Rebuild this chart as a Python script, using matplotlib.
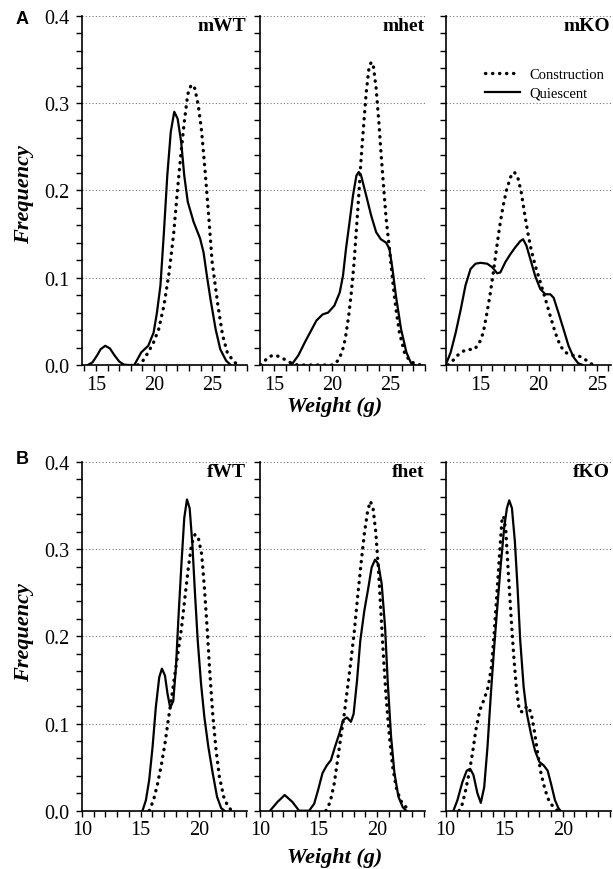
import matplotlib.pyplot as plt
from matplotlib.ticker import MultipleLocator

plt.rcParams['font.family'] = ['Liberation Serif', 'DejaVu Serif']

# Weight density curves, males (top row)
mwt_q_x = [14.3, 14.7, 15.1, 15.4, 15.8, 16.2, 16.6, 17.0, 17.4, 17.8, 18.3, 18.9, 19.5, 19.96, 20.25, 20.55,
           20.85, 21.14, 21.44, 21.74, 22.03, 22.33, 22.6, 22.9, 23.4, 23.96, 24.26, 24.55, 24.85, 25.3, 25.7,
           26.2, 26.6]
mwt_q_y = [0.0, 0.003, 0.011, 0.018, 0.022, 0.019, 0.011, 0.004, 0.0005, 0.0, 0.0, 0.0145, 0.022, 0.037, 0.06,
           0.091, 0.152, 0.217, 0.267, 0.29, 0.282, 0.256, 0.217, 0.187, 0.164, 0.145, 0.129, 0.102, 0.076, 0.041,
           0.018, 0.005, 0.0]
mwt_c_x = [18.6, 19.0, 19.5, 19.96, 20.4, 20.85, 21.3, 21.7, 22.0, 22.3, 22.6, 22.9, 23.2, 23.5, 23.8, 24.1,
           24.4, 24.7, 25.0, 25.5, 25.9, 26.3, 26.9, 27.4]
mwt_c_y = [0.0, 0.004, 0.0145, 0.026, 0.041, 0.068, 0.106, 0.152, 0.198, 0.24, 0.278, 0.31, 0.321, 0.317, 0.298,
           0.267, 0.221, 0.171, 0.118, 0.068, 0.034, 0.0145, 0.003, 0.0]

mhet_q_x = [16.5, 17.1, 17.66, 18.1, 18.66, 19.2, 19.66, 20.2, 20.66, 20.94, 21.2, 21.5, 21.8, 22.1, 22.3, 22.5,
            22.94, 23.37, 23.8, 24.2, 24.66, 24.94, 25.2, 25.5, 25.94, 26.4, 26.8, 27.1]
mhet_q_y = [0.0, 0.011, 0.026, 0.037, 0.051, 0.058, 0.06, 0.068, 0.083, 0.102, 0.133, 0.163, 0.194, 0.217, 0.221,
            0.217, 0.194, 0.171, 0.152, 0.144, 0.14, 0.133, 0.11, 0.079, 0.041, 0.0145, 0.002, 0.0]
mhet_c_x = [13.85, 14.1, 14.5, 15.0, 15.5, 16.1, 16.66, 17.1, 18.0, 19.0, 20.1, 20.5, 20.86, 21.14, 21.43, 21.66,
            21.9, 22.1, 22.3, 22.5, 22.74, 22.94, 23.17, 23.37, 23.57, 23.8, 24.03, 24.23, 24.46, 24.66, 24.94,
            25.23, 25.5, 25.8, 26.23, 26.66, 27.2, 27.66]
mhet_c_y = [0.0, 0.003, 0.009, 0.0115, 0.0095, 0.005, 0.001, 0.0, 0.0, 0.0, 0.0, 0.005, 0.0145, 0.03, 0.056,
            0.083, 0.118, 0.156, 0.194, 0.236, 0.278, 0.312, 0.339, 0.347, 0.341, 0.316, 0.278, 0.24, 0.2, 0.167,
            0.133, 0.095, 0.064, 0.037, 0.0145, 0.005, 0.001, 0.0]

mko_q_x = [12.0, 12.43, 12.86, 13.3, 13.7, 14.14, 14.57, 15.0, 15.57, 16.0, 16.43, 16.7, 17.14, 17.57, 18.0,
           18.43, 18.66, 18.94, 19.29, 19.7, 20.14, 20.57, 21.0, 21.29, 21.7, 22.14, 22.57, 23.0, 23.4, 23.8]
mko_q_y = [0.0, 0.0145, 0.037, 0.064, 0.091, 0.11, 0.116, 0.117, 0.116, 0.112, 0.105, 0.106, 0.118, 0.127,
           0.135, 0.142, 0.144, 0.137, 0.121, 0.102, 0.087, 0.081, 0.081, 0.077, 0.06, 0.041, 0.022, 0.009,
           0.002, 0.0]
mko_c_x = [12.2, 12.43, 12.86, 13.3, 13.86, 14.43, 14.86, 15.23, 15.5, 15.8, 16.1, 16.37, 16.66, 16.94, 17.23,
           17.57, 17.9, 18.2, 18.5, 18.77, 19.06, 19.34, 19.7, 20.14, 20.57, 21.0, 21.43, 21.86, 22.29, 22.86,
           23.29, 23.7, 24.14, 24.57, 24.86]
mko_c_y = [0.0, 0.002, 0.009, 0.0145, 0.018, 0.0175, 0.024, 0.037, 0.056, 0.079, 0.106, 0.133, 0.16, 0.182, 0.2,
           0.215, 0.221, 0.215, 0.198, 0.175, 0.152, 0.133, 0.114, 0.095, 0.076, 0.056, 0.037, 0.022, 0.0145,
           0.011, 0.011, 0.009, 0.005, 0.001, 0.0]

# Weight density curves, females (bottom row)
fwt_q_x = [15.17, 15.46, 15.74, 16.03, 16.31, 16.6, 16.83, 17.09, 17.31, 17.54, 17.8, 18.03, 18.26, 18.51,
           18.74, 18.97, 19.2, 19.43, 19.66, 19.89, 20.17, 20.46, 20.8, 21.17, 21.54, 21.89, 22.17]
fwt_q_y = [0.0, 0.012, 0.035, 0.073, 0.119, 0.153, 0.163, 0.155, 0.134, 0.118, 0.126, 0.165, 0.226, 0.286,
           0.336, 0.357, 0.347, 0.306, 0.248, 0.195, 0.146, 0.107, 0.073, 0.043, 0.016, 0.003, 0.0]
fwt_c_x = [15.74, 16.11, 16.46, 16.8, 17.09, 17.37, 17.66, 17.94, 18.23, 18.51, 18.8, 19.09, 19.37, 19.66,
           19.94, 20.23, 20.46, 20.69, 20.91, 21.17, 21.46, 21.74, 22.11, 22.46, 22.8]
fwt_c_y = [0.0, 0.012, 0.031, 0.054, 0.077, 0.104, 0.13, 0.157, 0.184, 0.21, 0.245, 0.279, 0.306, 0.317,
           0.313, 0.294, 0.256, 0.21, 0.161, 0.111, 0.069, 0.039, 0.016, 0.005, 0.0]

fhet_q_x = [10.86, 11.49, 12.11, 12.77, 13.34, 14.2, 14.63, 14.97, 15.34, 15.71, 16.06, 16.4, 16.77, 17.11,
            17.43, 17.77, 18.0, 18.29, 18.57, 18.91, 19.26, 19.54, 19.83, 20.11, 20.4, 20.69, 20.91, 21.2,
            21.49, 21.83, 22.2, 22.49]
fhet_q_y = [0.0, 0.01, 0.018, 0.01, 0.0, 0.0, 0.008, 0.024, 0.043, 0.052, 0.058, 0.073, 0.088, 0.104, 0.107,
            0.102, 0.111, 0.149, 0.195, 0.229, 0.256, 0.279, 0.288, 0.283, 0.26, 0.21, 0.149, 0.085, 0.043,
            0.016, 0.004, 0.0]
fhet_c_x = [15.63, 16.0, 16.34, 16.63, 16.91, 17.2, 17.49, 17.77, 18.06, 18.34, 18.63, 18.91, 19.2, 19.43,
            19.66, 19.89, 20.11, 20.34, 20.57, 20.8, 21.06, 21.34, 21.63, 22.0, 22.4, 22.86]
fhet_c_y = [0.0, 0.01, 0.031, 0.058, 0.085, 0.111, 0.142, 0.172, 0.206, 0.245, 0.283, 0.317, 0.344, 0.355,
            0.347, 0.32, 0.279, 0.226, 0.172, 0.126, 0.085, 0.05, 0.027, 0.012, 0.005, 0.0]

fko_q_x = [10.66, 11.0, 11.43, 11.8, 12.09, 12.37, 12.71, 13.0, 13.29, 13.57, 13.86, 14.14, 14.43, 14.71, 15.0,
           15.23, 15.43, 15.66, 15.91, 16.14, 16.37, 16.66, 16.94, 17.29, 17.63, 18.0, 18.37, 18.71, 19.0,
           19.34, 19.63, 19.8]
fko_q_y = [0.0, 0.012, 0.033, 0.046, 0.048, 0.041, 0.02, 0.009, 0.027, 0.073, 0.134, 0.187, 0.237, 0.283,
           0.325, 0.347, 0.356, 0.347, 0.309, 0.256, 0.195, 0.142, 0.111, 0.088, 0.069, 0.056, 0.052, 0.046,
           0.031, 0.012, 0.003, 0.0]
fko_c_x = [11.14, 11.43, 11.71, 12.0, 12.29, 12.57, 12.91, 13.29, 13.63, 13.91, 14.14, 14.37, 14.6, 14.8,
           14.94, 15.14, 15.34, 15.57, 15.8, 16.03, 16.29, 16.57, 16.94, 17.29, 17.57, 17.86, 18.14, 18.49,
           18.86, 19.29, 19.57]
fko_c_y = [0.0, 0.008, 0.024, 0.043, 0.066, 0.092, 0.115, 0.128, 0.142, 0.165, 0.203, 0.248, 0.294, 0.332,
           0.338, 0.321, 0.275, 0.226, 0.18, 0.142, 0.115, 0.113, 0.12, 0.113, 0.092, 0.066, 0.043, 0.024,
           0.01, 0.003, 0.0]

names = ['mWT', 'mhet', 'mKO', 'fWT', 'fhet', 'fKO']
curves = [(mwt_c_x, mwt_c_y, mwt_q_x, mwt_q_y),
          (mhet_c_x, mhet_c_y, mhet_q_x, mhet_q_y),
          (mko_c_x, mko_c_y, mko_q_x, mko_q_y),
          (fwt_c_x, fwt_c_y, fwt_q_x, fwt_q_y),
          (fhet_c_x, fhet_c_y, fhet_q_x, fhet_q_y),
          (fko_c_x, fko_c_y, fko_q_x, fko_q_y)]
xlims = [(13.8, 28.0), (13.8, 28.0), (12.0, 26.2), (10.0, 24.1), (10.0, 24.1), (10.0, 24.1)]

W, H = 613, 870
fig = plt.figure(figsize=(W / 100, H / 100), dpi=100)

lefts = [82, 260, 445.7]
rows = [(16.7, 366), (463, 811.7)]  # (top, bottom) in pixels
panel_w = 165

for i, name in enumerate(names):
    r, c = divmod(i, 3)
    top, bot = rows[r]
    ax = fig.add_axes([lefts[c] / W, (H - bot) / H, panel_w / W, (bot - top) / H])
    cx, cy, qx, qy = curves[i]

    for gy in [0.1, 0.2, 0.3, 0.4]:
        ax.axhline(gy, color='#777777', linestyle=(0, (1, 2)), linewidth=0.8, zorder=0)

    ax.plot(cx, cy, color='black', linewidth=2.4, linestyle=(0, (0.1, 2.0)),
            dash_capstyle='round', label='Construction', zorder=3)
    ax.plot(qx, qy, color='black', linewidth=1.6, label='Quiescent', zorder=4)

    ax.set_xlim(*xlims[i])
    ax.set_ylim(0, 0.4)
    ax.xaxis.set_major_locator(MultipleLocator(5))
    ax.xaxis.set_minor_locator(MultipleLocator(1))
    ax.yaxis.set_major_locator(MultipleLocator(0.1))
    ax.yaxis.set_minor_locator(MultipleLocator(0.02))
    ax.spines['top'].set_visible(False)
    ax.spines['right'].set_visible(False)
    for s in ['left', 'bottom']:
        ax.spines[s].set_linewidth(1.2)
    ax.tick_params(which='both', direction='out', length=4, width=1, labelsize=14.5, pad=3)
    ax.tick_params(axis='y', pad=5)

    if c == 0:
        ax.yaxis.set_major_formatter(plt.FuncFormatter(lambda v, p: f'{v:.1f}'))
    else:
        ax.tick_params(axis='y', labelleft=False)

    ax.text(0.995, 0.997, name, transform=ax.transAxes, ha='right', va='top',
            fontsize=14, fontweight='bold')

    if i == 2:
        ax.legend(loc='upper left', bbox_to_anchor=(0.24, 0.852), frameon=False, fontsize=10.5,
                  handlelength=2.4, handletextpad=0.6, labelspacing=0.4, borderpad=0,
                  borderaxespad=0)

# axis titles and panel letters
for yc in [195, 633]:
    fig.text(24 / W, (H - yc) / H, 'Frequency', rotation=90, ha='center', va='center',
             fontsize=16, fontweight='bold', fontstyle='italic')
for yc in [407, 858]:
    fig.text(335 / W, (H - yc) / H, 'Weight (g)', ha='center', va='center',
             fontsize=16, fontweight='bold', fontstyle='italic')
for letter, yc in [('A', 19), ('B', 460)]:
    fig.text(22 / W, (H - yc) / H, letter, ha='center', va='center',
             fontsize=13, fontweight='bold', family='Liberation Sans')

fig.savefig('out.png', dpi=100)
